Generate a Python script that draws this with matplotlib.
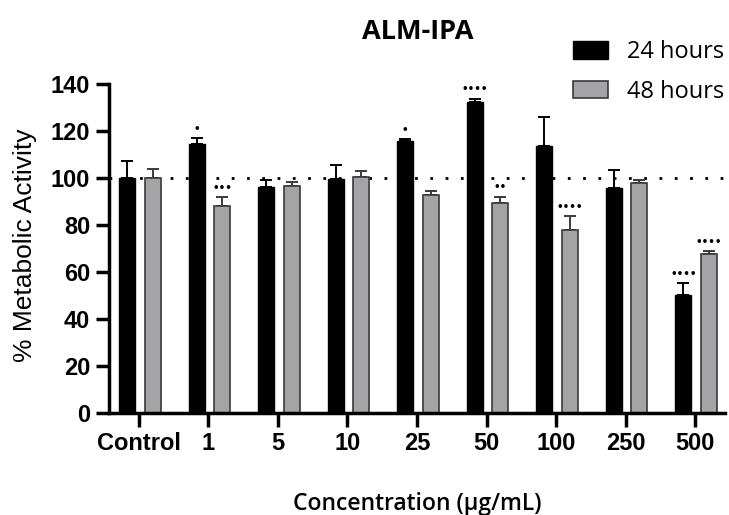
import numpy as np
import matplotlib.pyplot as plt

# data
concentrations = ['Control', '1', '5', '10', '25', '50', '100', '250', '500']
mean_24h = [100.0, 114.3, 96.3, 99.4, 115.6, 132.4, 113.7, 95.7, 50.2]
err_24h = [7.3, 2.7, 2.8, 6.0, 0.8, 1.4, 12.1, 7.6, 5.1]
mean_48h = [100.0, 88.1, 96.7, 100.2, 92.8, 89.3, 78.0, 98.0, 67.6]
err_48h = [4.0, 3.6, 1.7, 2.7, 1.7, 2.8, 5.9, 1.1, 1.3]
sig_24h = ['', '•', '', '', '•', '••••', '', '', '••••']
sig_48h = ['', '•••', '', '', '', '••', '••••', '', '••••']

fig = plt.figure(figsize=(7.29, 5.15), dpi=100)
ax = fig.add_axes([0.1495, 0.198, 0.845, 0.639])

x = np.arange(len(concentrations))
w = 0.23
off_24, off_48 = -0.17, 0.20
n = len(x)

# reference line at 100 %
ax.axhline(100, color='black', lw=2, ls=(0, (1, 4.5)), zorder=0)

ax.bar(x + off_24, mean_24h, w, color='black', edgecolor='black', lw=1,
       label='24 hours', zorder=2)
ax.bar(x + off_48, mean_48h, w, color='#a4a4a6', edgecolor='#3a3a3a', lw=1.2,
       label='48 hours', zorder=2)
ax.errorbar(x + off_24, mean_24h, yerr=[np.zeros(n), err_24h], fmt='none',
            ecolor='black', elinewidth=1.4, capsize=4, capthick=1.4, zorder=1)
ax.errorbar(x + off_48, mean_48h, yerr=[np.zeros(n), err_48h], fmt='none',
            ecolor='#3a3a3a', elinewidth=1.4, capsize=4, capthick=1.4, zorder=1)

# significance marks
for i in range(n):
    if sig_24h[i]:
        ax.text(x[i] + off_24, mean_24h[i] + err_24h[i] + 1.8, sig_24h[i],
                ha='center', va='bottom', fontsize=7.5, fontweight='bold')
    if sig_48h[i]:
        ax.text(x[i] + off_48, mean_48h[i] + err_48h[i] + 1.8, sig_48h[i],
                ha='center', va='bottom', fontsize=7.5, fontweight='bold')

ax.set_ylim(0, 140)
ax.set_xlim(-0.43, 8.43)
ax.set_yticks(range(0, 141, 20))
ax.set_xticks(x)
ax.set_xticklabels(concentrations)
for lab in ax.get_xticklabels() + ax.get_yticklabels():
    lab.set_family('Liberation Sans')
    lab.set_fontweight('bold')
    lab.set_fontsize(17)

ax.spines['top'].set_visible(False)
ax.spines['right'].set_visible(False)
ax.spines['left'].set_linewidth(2.5)
ax.spines['bottom'].set_linewidth(2.5)
ax.tick_params(axis='y', width=2.5, length=9.5, pad=4)
ax.tick_params(axis='x', width=2.5, length=10, pad=4)

ax.set_ylabel('% Metabolic Activity', family='Liberation Sans', fontsize=19,
              va='center')
ax.yaxis.set_label_coords(-0.136, 0.51)
ax.set_xlabel('Concentration (μg/mL)', family='Open Sans', fontsize=16.5,
              fontweight='semibold', va='center')
ax.xaxis.set_label_coords(0.50, -0.277)
fig.text(0.573, 0.937, 'ALM-IPA', ha='center', va='center', fontsize=19.5,
         fontweight='bold', family='Open Sans')

ax.legend(loc='upper left', bbox_to_anchor=(0.786, 0.922),
          bbox_transform=fig.transFigure, frameon=False,
          prop={'family': 'Open Sans', 'size': 17}, handlelength=1.48,
          handleheight=0.76, labelspacing=0.65, handletextpad=0.8,
          borderpad=0, borderaxespad=0)

fig.savefig('out.png', dpi=100)
